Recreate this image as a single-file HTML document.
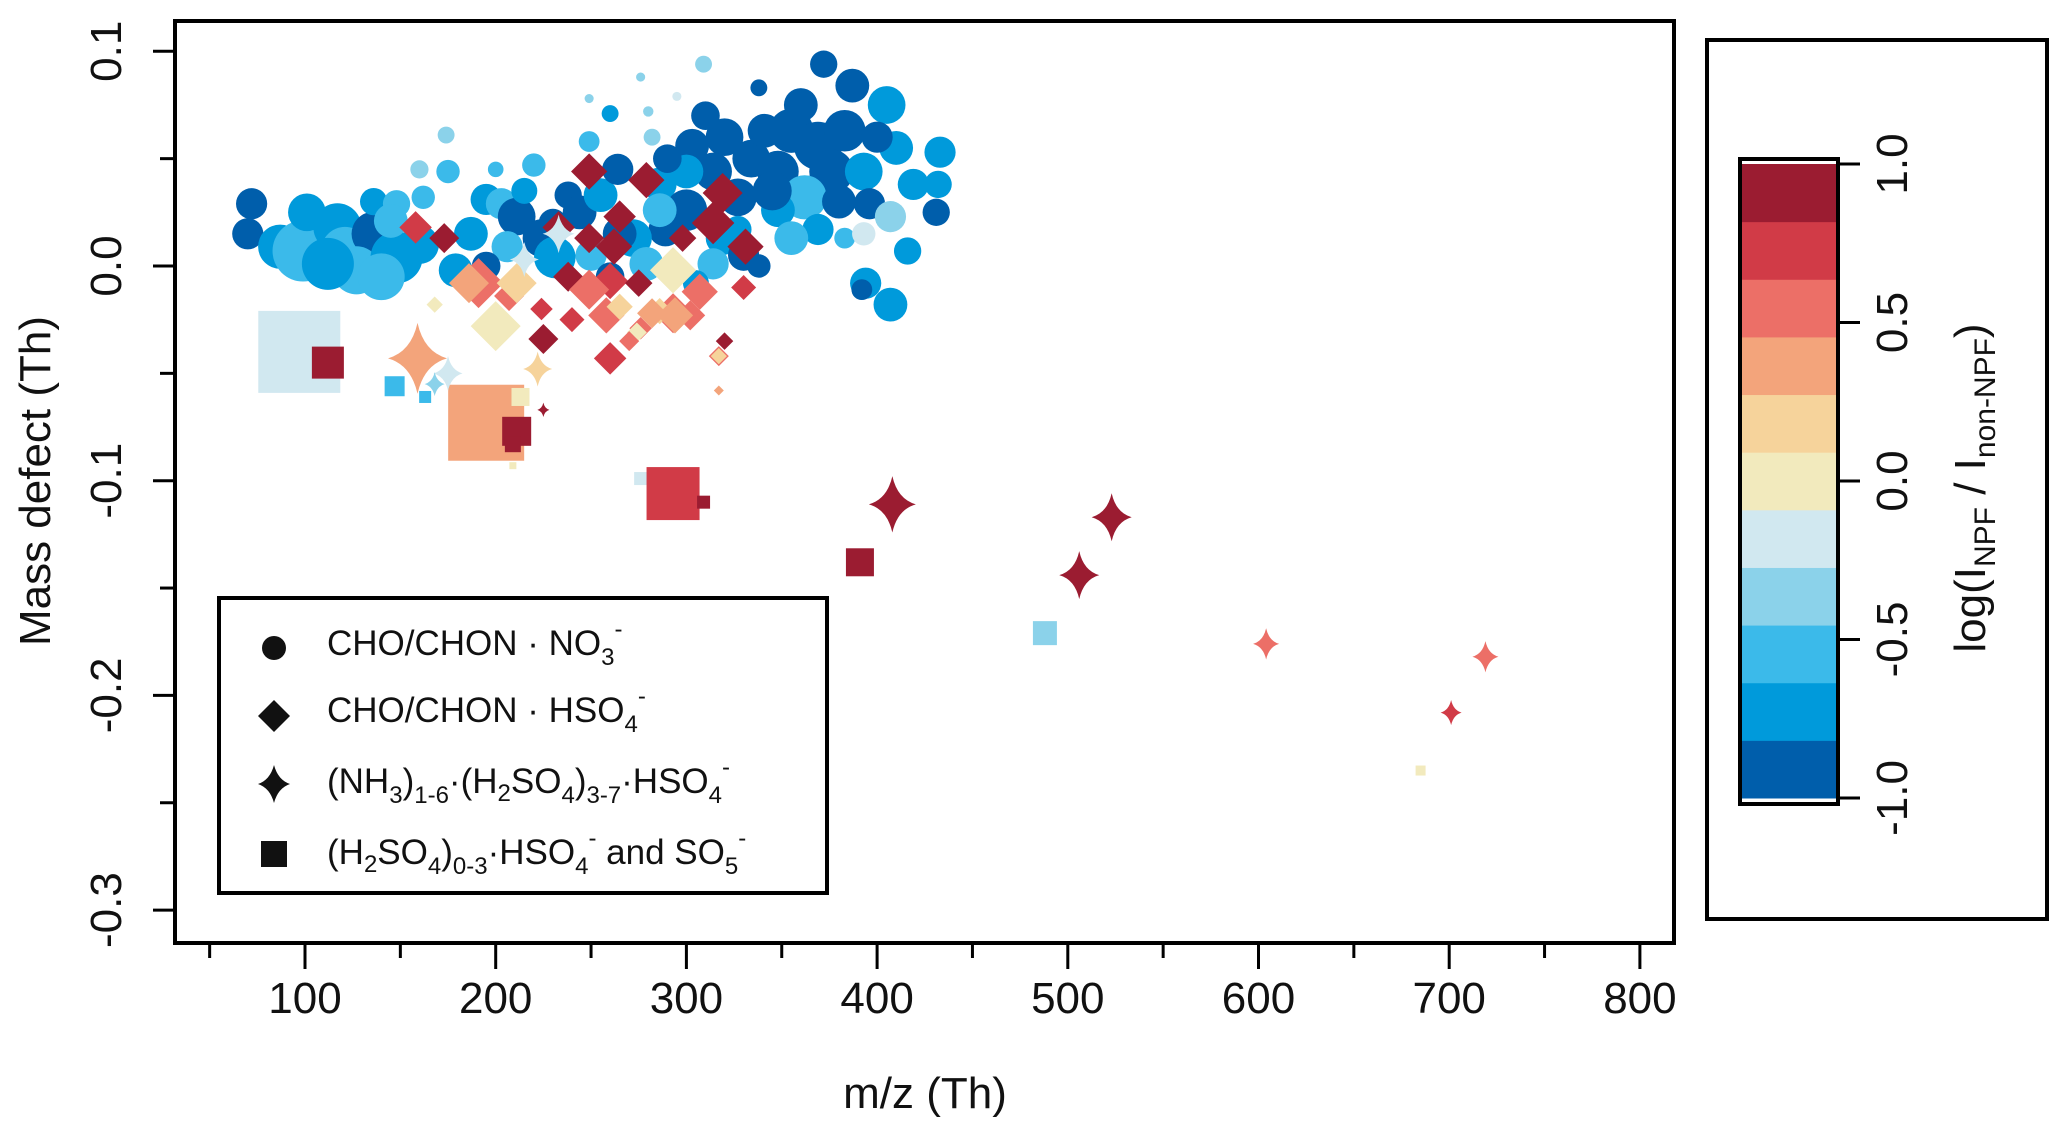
<!DOCTYPE html>
<html><head><meta charset="utf-8"><style>
html,body{margin:0;padding:0;background:#fff;}
svg{display:block;font-family:"Liberation Sans",Arial,sans-serif;}
</style></head><body>
<svg id="chart" width="2067" height="1138" viewBox="0 0 2067 1138">
<g id="plot"></g>
</svg>
<script>
// ---- data ----
const circMz=[72,70,87,99,101,117,121,136,136,127,112,148,148,162,145,175,174,195,187,179,220,203,211,224,231,206,238,244,255,264,249,260,249,276,282,280,295,309,303,320,314,286,300,289,272,279,327,334,341,338,372,387,405,355,369,376,348,362,348,327,383,393,396,410,419,433,432,431,416,407,394,407,392,338,369,383,286,300,319,314,355,393,265,250,230,330,345,360,310,290,380,400,195,260,305,215,160,140,200,160];
const circMd=[.029,.015,.009,.007,.025,.018,.007,.015,.030,-.002,.001,.004,.029,.032,.021,.044,.061,.031,.015,-.002,.047,.029,.023,.013,.004,.009,.033,.025,.033,.045,.058,.071,.078,.088,.060,.072,.079,.094,.056,.060,.044,.038,.026,.017,.013,.001,.032,.050,.063,.083,.094,.084,.075,.063,.056,.044,.044,.032,.026,.017,.063,.044,.029,.055,.038,.053,.038,.025,.007,.023,-.008,-.018,-.011,0,.017,.013,.026,.044,.013,.001,.013,.015,.015,.005,.020,.005,.035,.075,.070,.050,.030,.060,.000,-.005,-.008,.035,.010,-.005,.045,.045];
const circSize=[24,24,34,47,29,37,37,34,21,37,40,40,21,18,26,18,13,24,26,26,18,24,29,29,32,24,21,26,26,24,16,13,7,7,13,8,7,13,26,29,29,26,32,26,29,26,29,29,26,13,21,26,29,34,37,34,32,34,26,21,32,29,24,26,24,24,21,21,21,24,24,26,16,18,24,16,26,26,26,24,26,18,26,24,22,24,30,26,22,22,26,24,22,22,20,20,30,36,12,14];
const circVal=[-.909,-.909,-.727,-.545,-.727,-.727,-.545,-.909,-.727,-.545,-.727,-.727,-.545,-.545,-.545,-.545,-.364,-.727,-.727,-.727,-.545,-.545,-.909,-.909,-.727,-.545,-.909,-.909,-.727,-.909,-.545,-.727,-.364,-.364,-.364,-.364,-.182,-.364,-.909,-.909,-.909,-.727,-.909,-.909,-.727,-.545,-.909,-.909,-.909,-.909,-.909,-.909,-.727,-.909,-.909,-.909,-.909,-.545,-.727,-.727,-.909,-.727,-.909,-.727,-.727,-.727,-.727,-.909,-.727,-.364,-.727,-.727,-.909,-.909,-.727,-.545,-.545,-.727,-.727,-.545,-.545,-.182,-.909,-.545,-.909,-.909,-.909,-.909,-.909,-.909,-.909,-.909,-.909,-.909,-.727,-.727,-.727,-.545,-.545,-.364];

const diaMz=[249,279,319,158,173,233,249,265,262,314,331,238,260,224,225,260,275,298,191,207,186,249,258,293,307,302,276,317,200,293,168,274,211,286,265,317,186,294,282,317,320,330,240,270];
const diaMd=[.044,.040,.034,.018,.013,.018,.013,.023,.009,.020,.009,-.005,-.007,-.020,-.034,-.043,-.008,.013,-.008,-.014,-.008,-.011,-.023,-.022,-.012,-.023,-.029,-.042,-.028,-.002,-.018,-.031,-.008,-.021,-.019,-.042,-.008,-.023,-.022,-.058,-.035,-.010,-.025,-.035];
const diaSize=[29,29,32,26,24,26,24,26,29,34,29,24,29,18,24,26,22,22,40,24,29,32,29,32,29,24,18,16,40,37,13,16,32,21,21,13,32,29,24,8,14,20,20,16];
const diaVal=[.909,.909,.909,.727,.909,.909,.909,.909,.909,.909,.909,.909,.727,.727,.909,.727,.909,.909,.545,.545,.364,.545,.545,.545,.545,.545,.545,.545,0,0,0,0,.182,.182,.182,.182,.364,.364,.364,.364,.909,.727,.727,.545];

const starMz=[159,175,168,222,225,408,506,523,604,719,701,233,215];
const starMd=[-.043,-.050,-.055,-.048,-.067,-.111,-.144,-.117,-.176,-.182,-.208,.015,.003];
const starSize=[59,29,20,29,12,47,40,40,26,26,21,32,29];
const starVal=[.364,-.182,-.364,.182,.909,.909,.909,.909,.545,.545,.727,-.182,-.182];

const sqMz=[97,112,147,163,195,213,211,209,209,276,293,309,391,488,685];
const sqMd=[-.040,-.045,-.056,-.061,-.073,-.061,-.077,-.083,-.093,-.099,-.106,-.110,-.138,-.171,-.235];
const sqSize=[82,32,20,12,76,18,29,16,7,13,53,13,28,24,10];
const sqVal=[-.182,.909,-.545,-.545,.364,0,.909,.909,0,-.182,.727,.909,.909,-.364,0];

const xTicks=[100,200,300,400,500,600,700,800];
const xMinor=[50,150,250,350,450,550,650,750];
const yTicks=[0.1,0.0,-0.1,-0.2,-0.3];
const yTickLabels=["0.1","0.0","-0.1","-0.2","-0.3"];
const yMinor=[0.05,-0.05,-0.15,-0.25];
const cbTicks=[1.0,0.5,0.0,-0.5,-1.0];
const cbTickLabels=["1.0","0.5","0.0","-0.5","-1.0"];
const cbColors=["#005eab","#009adb","#3bbaea","#8bd2ea","#d1e8f0","#f2eabd","#f6d39b","#f3a47b","#ec6f67","#d13b47","#9b1c31"];

// ---- scales ----
const X0=175,X1=1674,Y0=21,Y1=943;
const CIRC_K=1.3, DIA_K=1.25;
function xs(v){return 305+(v-100)*1.907;}
function ys(v){return 266-v*2147;}
function cbY(v){return 481-v*317;}
function col(v){let i=Math.floor((v+1)/2*11);if(i<0)i=0;if(i>10)i=10;return cbColors[i];}

const NS="http://www.w3.org/2000/svg";
const svg=document.getElementById('chart');
const plot=document.getElementById('plot');
function mk(tag,attrs,parent){const e=document.createElementNS(NS,tag);for(const k in attrs)e.setAttribute(k,attrs[k]);(parent||svg).appendChild(e);return e;}
function starPath(cx,cy,s){const r=s/2,ry=r*1.2,a=r*0.22;return `M${cx},${cy-ry} Q${cx+a},${cy-a} ${cx+r},${cy} Q${cx+a},${cy+a} ${cx},${cy+ry} Q${cx-a},${cy+a} ${cx-r},${cy} Q${cx-a},${cy-a} ${cx},${cy-ry}Z`;}

const defs=mk('defs',{});
const cp=mk('clipPath',{id:'clip'},defs);mk('rect',{x:X0,y:Y0,width:X1-X0,height:Y1-Y0},cp);
plot.setAttribute('clip-path','url(#clip)');

for(let i=0;i<sqMz.length;i++){
  const s=sqSize[i];
  const r=mk('rect',{x:xs(sqMz[i])-s/2,y:ys(sqMd[i])-s/2,width:s,height:s,fill:col(sqVal[i])},plot);
  
  
}
for(let i=0;i<circMz.length;i++){
  const c=mk('circle',{cx:xs(circMz[i]),cy:ys(circMd[i]),r:circSize[i]*CIRC_K/2,fill:col(circVal[i])},plot);
  
  
}
for(let i=0;i<diaMz.length;i++){
  const cx=xs(diaMz[i]),cy=ys(diaMd[i]),r=diaSize[i]*DIA_K/2;
  const d=mk('path',{d:`M${cx},${cy-r}L${cx+r},${cy}L${cx},${cy+r}L${cx-r},${cy}Z`,fill:col(diaVal[i])},plot);
  
  
}
for(let i=0;i<starMz.length;i++){
  const st=mk('path',{d:starPath(xs(starMz[i]),ys(starMd[i]),starSize[i]),fill:col(starVal[i])},plot);
  
  
}

const frame=mk('rect',{x:X0,y:Y0,width:X1-X0,height:Y1-Y0,fill:'none',stroke:'#000','stroke-width':4});



for(let i=0;i<xTicks.length;i++){
  const x=xs(xTicks[i]);
  const t=mk('line',{x1:x,x2:x,y1:Y1,y2:Y1+26,stroke:'#000','stroke-width':3});
  
  
  const l=mk('text',{x:x,y:Y1+70,'font-size':44,'text-anchor':'middle',fill:'#111'});
  l.textContent=xTicks[i];
  
  
}
for(let i=0;i<xMinor.length;i++){
  const x=xs(xMinor[i]);
  const t=mk('line',{x1:x,x2:x,y1:Y1,y2:Y1+15,stroke:'#000','stroke-width':3});
  
  
}
for(let i=0;i<yTicks.length;i++){
  const y=ys(yTicks[i]);
  const t=mk('line',{x1:X0-22,x2:X0,y1:y,y2:y,stroke:'#000','stroke-width':3});
  
  
  const l=mk('text',{x:0,y:0,'font-size':44,'text-anchor':'middle',fill:'#111',transform:`translate(121,${y}) rotate(-90)`});
  l.textContent=yTickLabels[i];
  
  
}
for(let i=0;i<yMinor.length;i++){
  const y=ys(yMinor[i]);
  const t=mk('line',{x1:X0-15,x2:X0,y1:y,y2:y,stroke:'#000','stroke-width':3});
  
  
}

for(let i=0;i<cbColors.length;i++){
  const v0=-1+i*2/11,v1=-1+(i+1)*2/11;
  const r=mk('rect',{x:1740,y:cbY(v1),width:98,height:cbY(v0)-cbY(v1)+0.5,fill:cbColors[i]});
  
  
}
for(let i=0;i<cbTicks.length;i++){
  const y=cbY(cbTicks[i]);
  const t=mk('line',{x1:1838,x2:1860,y1:y,y2:y,stroke:'#000','stroke-width':3});
  
  
  const l=mk('text',{x:0,y:0,'font-size':44,'text-anchor':'middle',fill:'#111',transform:`translate(1907,${y}) rotate(-90)`});
  l.textContent=cbTickLabels[i];
  
  
}
</script>
<svg style="position:absolute;left:0;top:0" width="2067" height="1138" viewBox="0 0 2067 1138">
<rect x="1740" y="159" width="98" height="645" fill="none" stroke="#000" stroke-width="4"/>
<rect x="1707" y="40" width="340" height="879" fill="none" stroke="#000" stroke-width="4"/>
<text transform="translate(1985,488) rotate(-90)" text-anchor="middle" font-size="44" fill="#111">log(I<tspan font-size="30" dy="10">NPF</tspan><tspan dy="-10"> / I</tspan><tspan font-size="30" dy="10">non-NPF</tspan><tspan dy="-10">)</tspan></text>
<text transform="translate(50,481) rotate(-90)" text-anchor="middle" font-size="44" fill="#111">Mass defect (Th)</text>
<text x="925" y="1108" text-anchor="middle" font-size="44" fill="#111">m/z (Th)</text>
<g>
<rect x="219" y="598" width="608" height="295" fill="#fff" stroke="#000" stroke-width="4"/>
<circle cx="274" cy="648" r="12" fill="#111"/>
<text x="327" y="655" font-size="35" fill="#111">CHO/CHON · NO<tspan font-size="24" dy="10">3</tspan><tspan font-size="24" dy="-28">-</tspan></text>
<path d="M274,700 L290,716 L274,732 L258,716Z" fill="#111"/>
<text x="327" y="722" font-size="35" fill="#111">CHO/CHON · HSO<tspan font-size="24" dy="10">4</tspan><tspan font-size="24" dy="-28">-</tspan></text>
<path d="M274,765 Q278,780 290,784 Q278,788 274,803 Q270,788 258,784 Q270,780 274,765Z" fill="#111"/>
<text x="327" y="793" font-size="35" fill="#111">(NH<tspan font-size="24" dy="10">3</tspan><tspan dy="-10">)</tspan><tspan font-size="24" dy="10">1-6</tspan><tspan dy="-10">·(H</tspan><tspan font-size="24" dy="8">2</tspan><tspan dy="-8">SO</tspan><tspan font-size="24" dy="10">4</tspan><tspan dy="-10">)</tspan><tspan font-size="24" dy="10">3-7</tspan><tspan dy="-10">·HSO</tspan><tspan font-size="24" dy="10">4</tspan><tspan font-size="24" dy="-28">-</tspan></text>
<rect x="261" y="841" width="26" height="26" fill="#111"/>
<text x="327" y="864" font-size="35" fill="#111">(H<tspan font-size="24" dy="8">2</tspan><tspan dy="-8">SO</tspan><tspan font-size="24" dy="10">4</tspan><tspan dy="-10">)</tspan><tspan font-size="24" dy="10">0-3</tspan><tspan dy="-10">·HSO</tspan><tspan font-size="24" dy="10">4</tspan><tspan font-size="24" dy="-28">-</tspan><tspan dy="18"> and SO</tspan><tspan font-size="24" dy="10">5</tspan><tspan font-size="24" dy="-28">-</tspan></text>
</g>
</svg>
</body></html>
